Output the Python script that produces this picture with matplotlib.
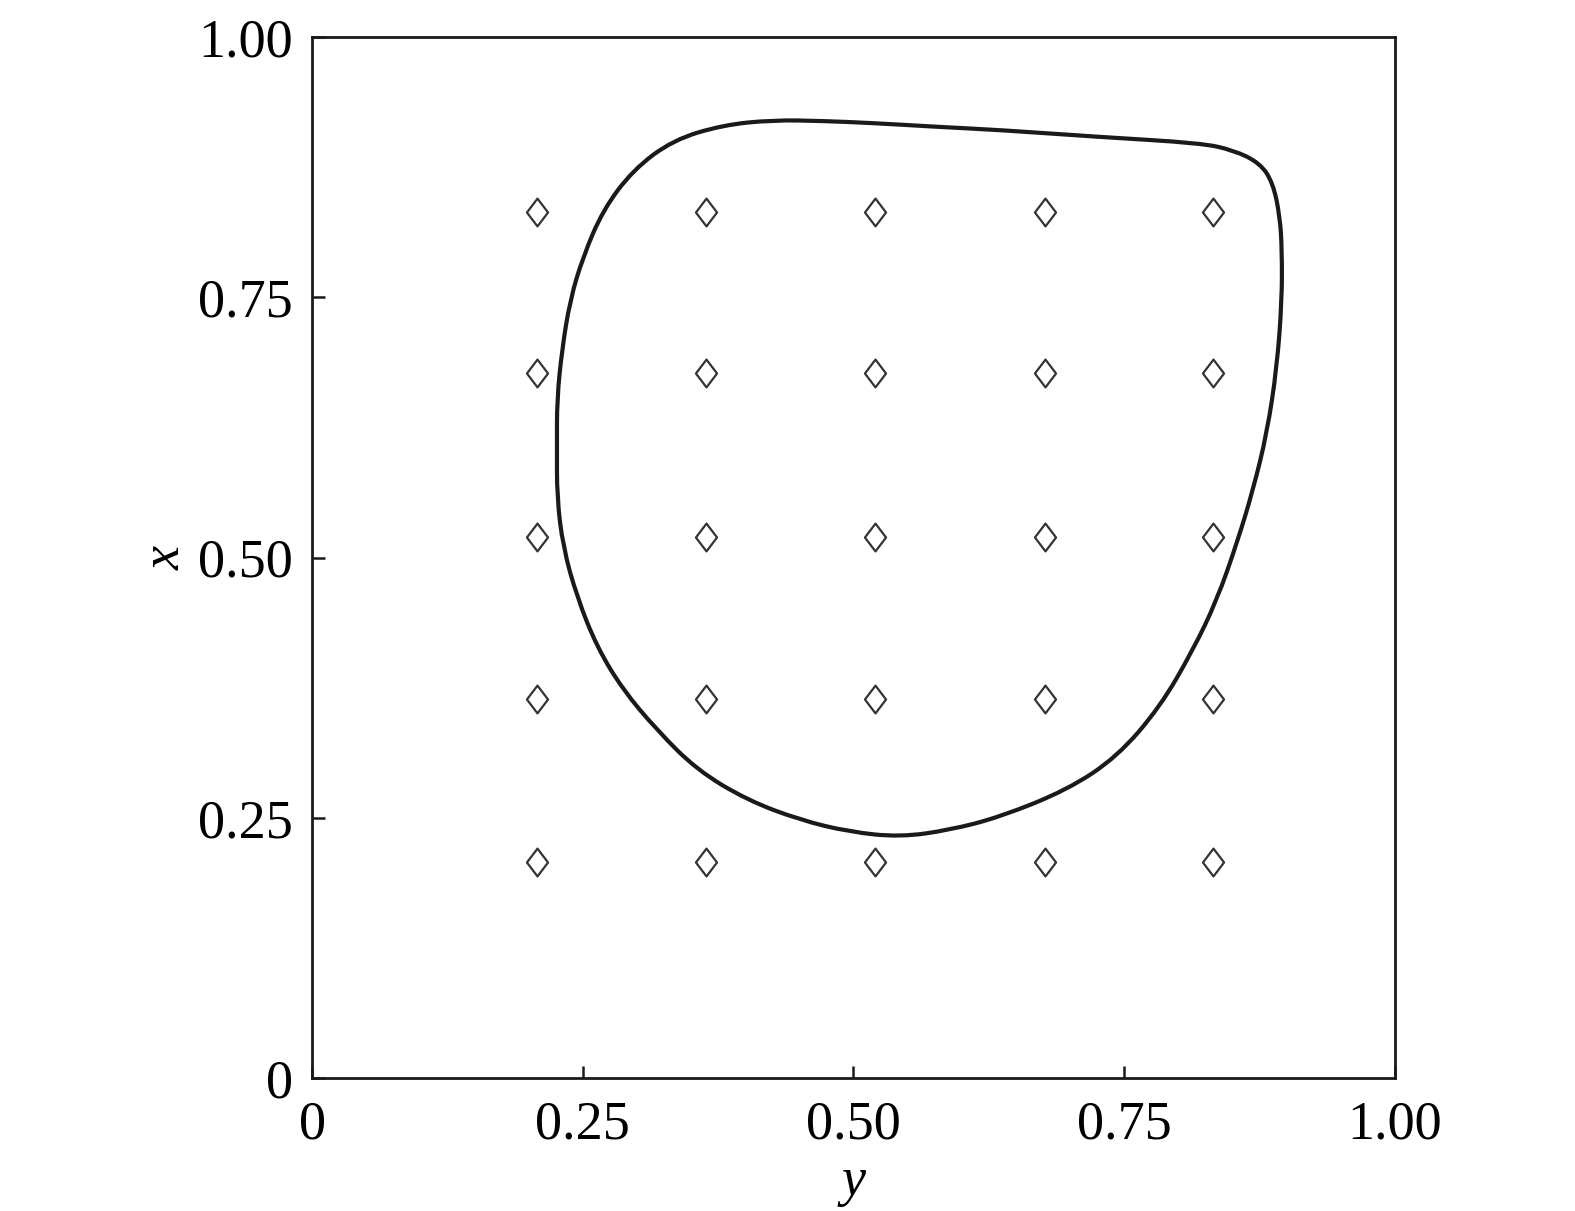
import numpy as np
import matplotlib
matplotlib.use("Agg")
import matplotlib.pyplot as plt
from matplotlib.path import Path
from matplotlib.patches import PathPatch

plt.rcParams["font.family"] = ["Liberation Serif", "DejaVu Serif"]

# grid of diamond points (y horizontal, x vertical)
grade = [0.208, 0.364, 0.520, 0.677, 0.832]

# closed contour
contorno_y = [0.2262, 0.2308, 0.2383, 0.2502, 0.2687, 0.2964, 0.3333, 0.3795,
              0.4256, 0.4719, 0.5180, 0.5799, 0.6353, 0.7276, 0.8199, 0.8505,
              0.8753, 0.8874, 0.8938, 0.8956, 0.8956, 0.8910, 0.8818, 0.8689,
              0.8541, 0.8356, 0.8135, 0.7830, 0.7433, 0.6971, 0.6353, 0.5891,
              0.5430, 0.4967, 0.4506, 0.4017, 0.3555, 0.3185, 0.2872, 0.2631,
              0.2447, 0.2318, 0.2262, 0.2262]
contorno_x = [0.6513, 0.6994, 0.7474, 0.7887, 0.8339, 0.8723, 0.9011, 0.9155,
              0.9203, 0.9194, 0.9174, 0.9136, 0.9107, 0.9040, 0.8982, 0.8915,
              0.8790, 0.8598, 0.8271, 0.7954, 0.7474, 0.6830, 0.6196, 0.5649,
              0.5140, 0.4592, 0.4112, 0.3564, 0.3084, 0.2767, 0.2508, 0.2383,
              0.2315, 0.2364, 0.2479, 0.2671, 0.2959, 0.3343, 0.3728, 0.4141,
              0.4621, 0.5101, 0.5582, 0.6062]

ticks = [0, 0.25, 0.50, 0.75, 1.00]
tick_labels = ["0", "0.25", "0.50", "0.75", "1.00"]

fig = plt.figure(figsize=(15.75, 12.11), dpi=100)
ax = fig.add_axes([0.1981, 0.1098, 0.6876, 0.8596])

# diamond marker, a bit wider than matplotlib's thin diamond
losango = Path([(0, 1), (0.76, 0), (0, -1), (-0.76, 0), (0, 1)],
               [Path.MOVETO, Path.LINETO, Path.LINETO, Path.LINETO, Path.CLOSEPOLY])

gy, gx = np.meshgrid(grade, grade)
ax.plot(gy.ravel(), gx.ravel(), linestyle="none", marker=losango,
        markersize=20, markerfacecolor="white", markeredgecolor="#333333",
        markeredgewidth=1.6)

# smooth closed curve: read points used as quadratic bezier controls
pts = np.column_stack([contorno_y, contorno_x])
n = len(pts)
meio = (pts + np.roll(pts, -1, axis=0)) / 2
verts = [meio[-1]]
codes = [Path.MOVETO]
for i in range(n):
    verts += [pts[i], meio[i]]
    codes += [Path.CURVE3, Path.CURVE3]
curva = PathPatch(Path(verts, codes), facecolor="none", edgecolor="#1a1a1a",
                  linewidth=3.0, joinstyle="round")
ax.add_patch(curva)

ax.set_xlim(0, 1)
ax.set_ylim(0, 1)
ax.set_xticks(ticks)
ax.set_xticklabels(tick_labels)
ax.set_yticks(ticks)
ax.set_yticklabels(tick_labels)
ax.tick_params(direction="in", length=9, width=1.8, labelsize=39, color="#1a1a1a")
ax.tick_params(axis="x", pad=16)
ax.tick_params(axis="y", pad=14)
for s in ax.spines.values():
    s.set_linewidth(2.0)
    s.set_color("#1a1a1a")

ax.set_xlabel("y", fontsize=39, fontstyle="italic", labelpad=4)
ax.set_ylabel("x", fontsize=39, fontstyle="italic", labelpad=4)

fig.savefig("out.png", dpi=100)
